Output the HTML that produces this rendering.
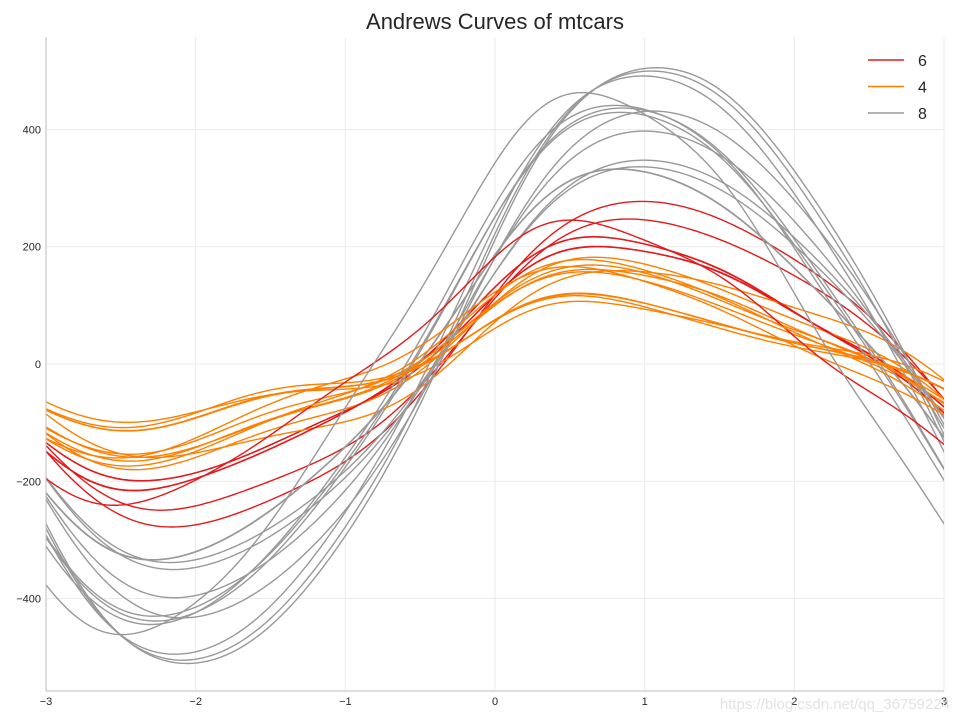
<!DOCTYPE html>
<html><head><meta charset="utf-8"><style>
body{margin:0;background:#fff;}
svg{display:block;font-family:"Liberation Sans",sans-serif;}
</style></head><body>
<svg id="chart" width="960" height="720">
<defs><clipPath id="clip"><rect x="46" y="37" width="898" height="654"/></clipPath></defs>
<text x="495" y="29" text-anchor="middle" font-size="22" fill="#262626">Andrews Curves of mtcars</text>
<g id="grid"></g>
<g id="curves" clip-path="url(#clip)"></g>
<line x1="46" y1="37" x2="46" y2="691" stroke="#bdbdbd" stroke-width="1"/>
<line x1="46" y1="691" x2="944" y2="691" stroke="#bdbdbd" stroke-width="1"/>
<g id="ticks"></g>
<g id="legend"></g>
<text x="950" y="709" text-anchor="end" font-size="15" fill="#e3e3e3">https://blog.csdn.net/qq_36759224</text>
</svg>
<script>
const cyl=[6,6,4,6,8,6,8,4,4,6,6,8,8,8,8,8,8,4,4,4,4,8,8,8,8,4,4,4,8,6,8,4];
const mpg=[21,21,22.8,21.4,18.7,18.1,14.3,24.4,22.8,19.2,17.8,16.4,17.3,15.2,10.4,10.4,14.7,32.4,30.4,33.9,21.5,15.5,15.2,13.3,19.2,27.3,26,30.4,15.8,19.7,15,21.4];
const disp=[160,160,108,258,360,225,360,146.7,140.8,167.6,167.6,275.8,275.8,275.8,472,460,440,78.7,75.7,71.1,120.1,318,304,350,400,79,120.3,95.1,351,145,301,121];
const hp=[110,110,93,110,175,105,245,62,95,123,123,180,180,180,205,215,230,66,52,65,97,150,150,245,175,66,91,113,264,175,335,109];
const drat=[3.9,3.9,3.85,3.08,3.15,2.76,3.21,3.69,3.92,3.92,3.92,3.07,3.07,3.07,2.93,3.0,3.23,4.08,4.93,4.22,3.7,2.76,3.15,3.73,3.08,4.08,4.43,3.77,4.22,3.62,3.54,4.11];
const wt=[2.62,2.875,2.32,3.215,3.44,3.46,3.57,3.19,3.15,3.44,3.44,4.07,3.73,3.78,5.25,5.424,5.345,2.2,1.615,1.835,2.465,3.52,3.435,3.84,3.845,1.935,2.14,1.513,3.17,2.77,3.57,2.78];
const qsec=[16.46,17.02,18.61,19.44,17.02,20.22,15.84,20,22.9,18.3,18.9,17.4,17.6,18,17.98,17.82,17.42,19.47,18.52,19.9,20.01,16.87,17.3,15.41,17.05,18.9,16.7,16.9,14.5,15.5,14.6,18.6];
const vs=[0,0,1,1,0,1,0,1,1,1,1,0,0,0,0,0,0,1,1,1,1,0,0,0,0,1,0,1,0,0,0,1];
const am=[1,1,1,0,0,0,0,0,0,0,0,0,0,0,0,0,0,1,1,1,0,0,0,0,0,1,1,1,1,1,1,1];
const gear=[4,4,4,3,3,3,3,4,4,4,4,3,3,3,3,3,3,4,4,4,3,3,3,3,3,4,5,5,5,5,5,4];
const carb=[4,4,1,1,2,1,4,2,2,4,4,3,3,3,4,4,4,1,2,1,1,2,2,4,2,1,2,2,4,6,8,2];
const fast=[1,1,1,1,0,0,0,1,1,0,0,0,0,0,0,0,0,1,1,1,1,0,0,0,0,1,1,1,0,0,0,1];
const classes=[6,4,8];
const colors={6:"#e41a1c",4:"#ff7f00",8:"#999999"};
const xTicks=[-3,-2,-1,0,1,2,3];
const yTicks=[-400,-200,0,200,400];

const NS="http://www.w3.org/2000/svg";
const X=v=>46+(v+3)*149.67;
const Y=v=>364-v*0.5863;
const mMean=mpg.reduce((s,v)=>s+v,0)/mpg.length;
const mSd=Math.sqrt(mpg.reduce((s,v)=>s+(v-mMean)*(v-mMean),0)/(mpg.length-1));
function mk(tag,attrs,parent){const e=document.createElementNS(NS,tag);for(const k in attrs)e.setAttribute(k,attrs[k]);parent.appendChild(e);return e;}
const grid=document.getElementById('grid'),ticks=document.getElementById('ticks');
xTicks.forEach(t=>{
  const l=mk('line',{x1:X(t),x2:X(t),y1:37,y2:691,stroke:'#ebebeb'},grid);
  
  
  const tx=mk('text',{x:X(t),y:705,'text-anchor':'middle','font-size':11,fill:'#262626'},ticks);
  tx.textContent=(t<0?'\u2212':'')+Math.abs(t);
  
  
});
yTicks.forEach(t=>{
  const l=mk('line',{x1:46,x2:944,y1:Y(t),y2:Y(t),stroke:'#ebebeb'},grid);
  
  
  const tx=mk('text',{x:41,y:Y(t)+4,'text-anchor':'end','font-size':11,fill:'#262626'},ticks);
  tx.textContent=(t<0?'\u2212':'')+Math.abs(t);
  
  
});
const curves=document.getElementById('curves');
for(let i=0;i<cyl.length;i++){
  const a=[(mpg[i]-mMean)/mSd,disp[i],hp[i],drat[i],wt[i],qsec[i],vs[i],am[i],gear[i],carb[i],fast[i]];
  let d='';
  for(let k=0;k<=300;k++){
    const t=-Math.PI+2*Math.PI*k/300;
    let r=a[0]/Math.SQRT2;
    for(let h=1;2*h-1<a.length;h++){
      r+=a[2*h-1]*Math.sin(h*t);
      if(2*h<a.length)r+=a[2*h]*Math.cos(h*t);
    }
    d+=(k?'L':'M')+X(t).toFixed(2)+','+Y(r).toFixed(2);
  }
  const p=mk('path',{d:d,fill:'none',stroke:colors[cyl[i]],'stroke-width':1.4},curves);
  
  
}
const lg=document.getElementById('legend');
classes.forEach((c,j)=>{
  const y=60+j*26.5;
  const l=mk('line',{x1:868,x2:904,y1:y,y2:y,stroke:colors[c],'stroke-width':1.5},lg);
  
  
  const t=mk('text',{x:918,y:y+6,'font-size':16,fill:'#262626'},lg);
  t.textContent=c;
  
  
});
</script>
</body></html>
